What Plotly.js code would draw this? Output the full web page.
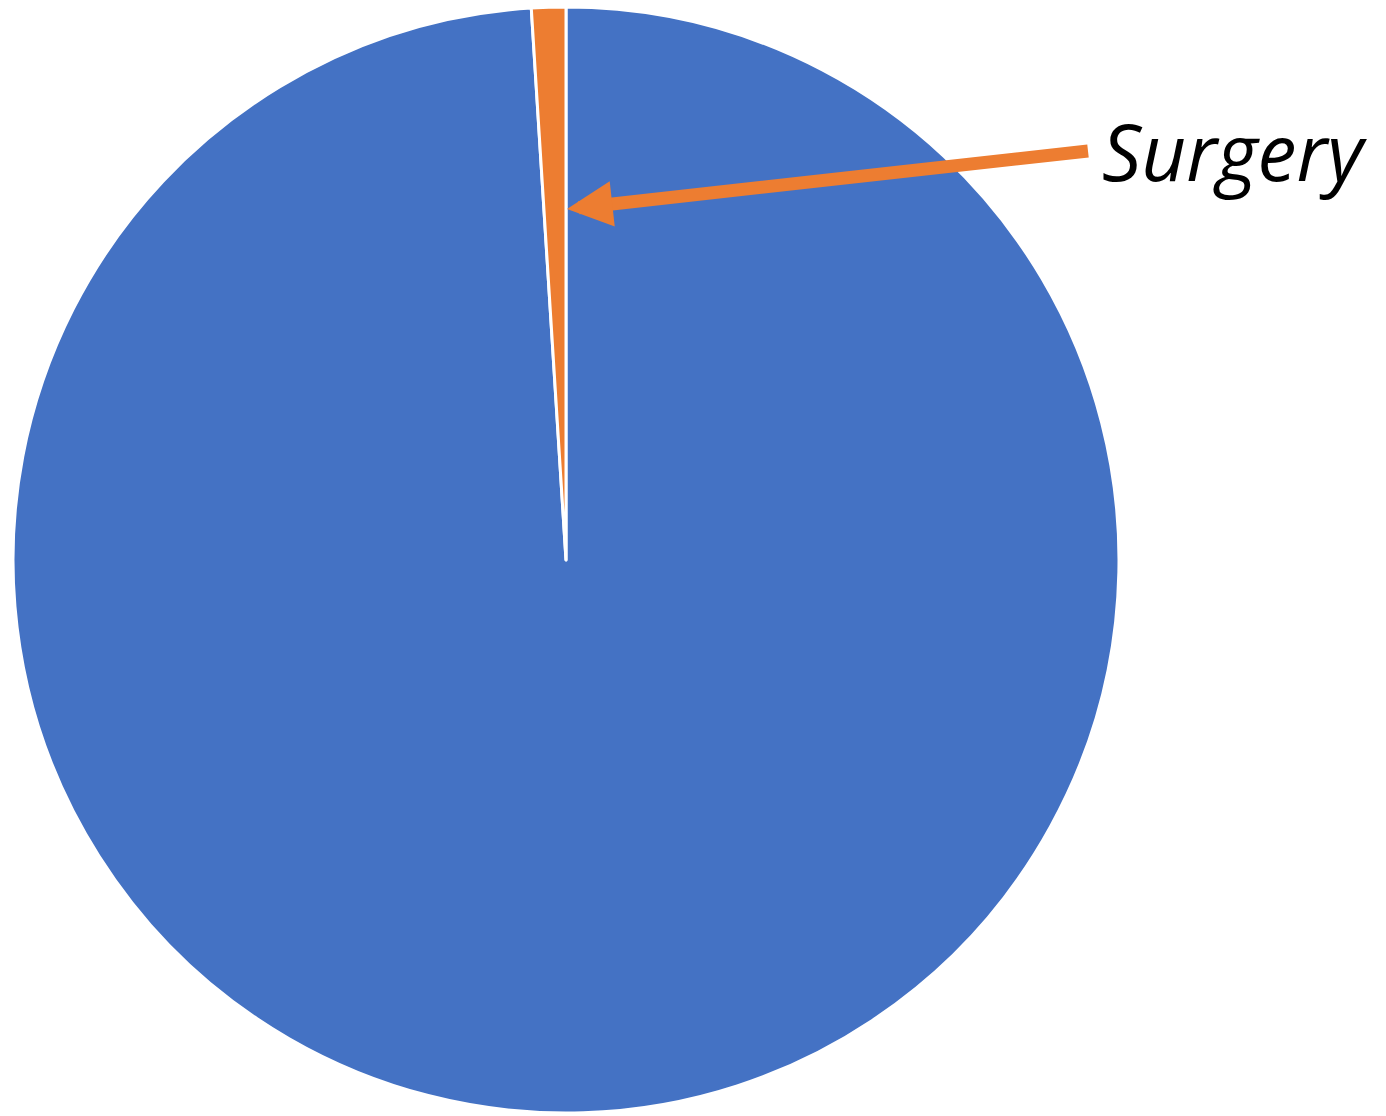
<!DOCTYPE html>
<html>
<head>
<meta charset="utf-8">
<script src="https://cdn.plot.ly/plotly-3.0.1.min.js"></script>
<style>html,body{margin:0;padding:0;background:#fff;}#chart{width:1386px;height:1116px;}</style>
</head>
<body>
<div id="chart"></div>
<script>
const labels = ["Other", "Surgery"];
const values = [99, 1];
const colors = ["#4472C4", "#ED7D31"];
const calloutText = "Surgery";

const W = 1386, H = 1116;
const cx = 566, cy = 560, r = 553;
const headPx = [567, 209];
const tailPx = [1088, 151];

const data = [{
  type: "pie",
  labels: labels,
  values: values,
  sort: false,
  direction: "clockwise",
  rotation: 0,
  textinfo: "none",
  hoverinfo: "label+percent",
  marker: {colors: colors, line: {color: "#ffffff", width: 3}},
  domain: {x: [(cx - r) / W, (cx + r) / W], y: [1 - (cy + r) / H, 1 - (cy - r) / H]},
  showlegend: false
}];

const layout = {
  width: W, height: H,
  margin: {l: 0, r: 0, t: 0, b: 0},
  paper_bgcolor: "#ffffff",
  showlegend: false,
  annotations: [{
    xref: "paper", yref: "paper",
    x: headPx[0] / W, y: 1 - headPx[1] / H,
    axref: "pixel", ayref: "pixel",
    ax: tailPx[0] - headPx[0], ay: tailPx[1] - headPx[1],
    text: calloutText,
    showarrow: true,
    arrowhead: 2, arrowsize: 0.7, arrowwidth: 13, arrowcolor: "#ED7D31",
    standoff: 0, startstandoff: 0,
    xanchor: "left", yanchor: "middle",
    borderpad: 13,
    font: {family: "Open Sans", size: 78, color: "#000000", style: "italic"}
  }]
};

Plotly.newPlot("chart", data, layout, {displayModeBar: false, staticPlot: true});
</script>
</body>
</html>
